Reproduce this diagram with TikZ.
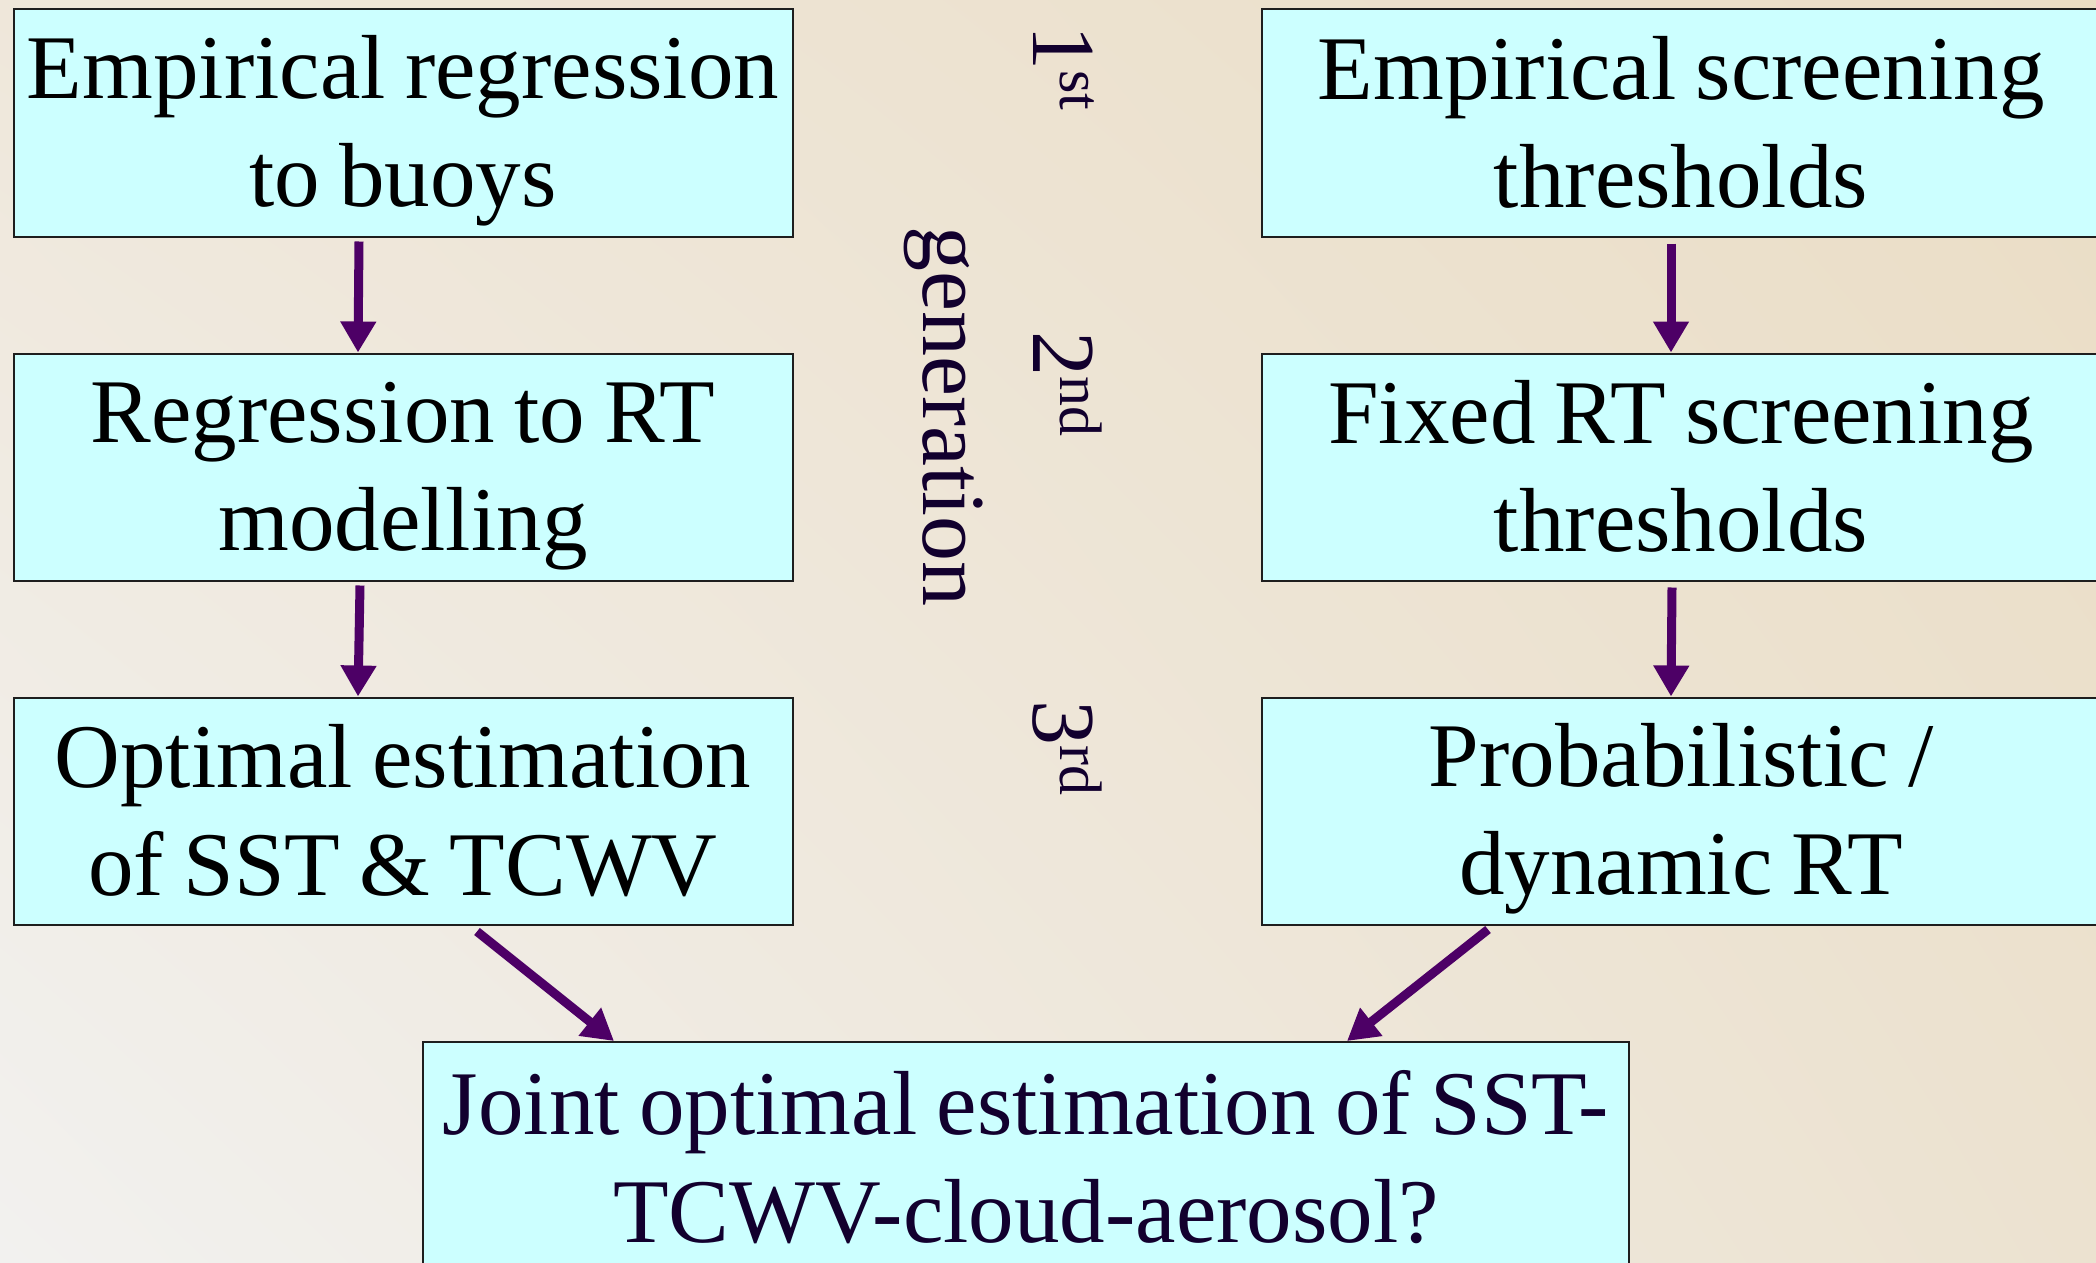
\documentclass[tikz,border=0pt]{standalone}
\usepackage{fontspec}
\setmainfont{Liberation Serif}[WordSpace=0.85]
\usetikzlibrary{arrows.meta,calc,shadings}
\definecolor{boxfill}{HTML}{CCFFFF}
\definecolor{arrowc}{RGB}{77,0,102}
\definecolor{navy}{HTML}{12002E}
\definecolor{bgUL}{HTML}{EFE7DA}
\definecolor{bgUR}{HTML}{EADDC5}
\definecolor{bgLL}{HTML}{F2F1EF}
\definecolor{bgLR}{HTML}{ECE2D0}
\definecolor{edgec}{HTML}{1E1E1E}
\newcommand\bxs{\rule[-18pt]{0pt}{96pt}}
\newcommand\bxb{\rule[-18pt]{0pt}{102pt}}
\newcommand\supx[1]{\raisebox{27pt}{\fontsize{60}{60}\selectfont #1}}
\begin{document}
\begin{tikzpicture}[x=1pt,y=-1pt,
  flowbox/.style={draw=edgec, fill=boxfill, line width=2pt, inner sep=0pt,
    minimum height=227pt, align=center,
    font=\fontsize{91}{108}\selectfont},
  leftbox/.style={flowbox, minimum width=779pt},
  rightbox/.style={flowbox, minimum width=838pt},
  genlabel/.style={rotate=-90, anchor=base west, inner sep=0pt, text=navy,
    font=\fontsize{90}{108}\selectfont},
  flowarrow/.style={draw=arrowc, line width=9pt,
    -{Triangle[length=31pt,width=34pt]}}
]
\useasboundingbox (0,0) rectangle (2096,1263);
\shade[upper left=bgUL, upper right=bgUR, lower left=bgLL, lower right=bgLR]
  (0,0) rectangle (2096,1263);

\node[leftbox] (L1) at (403,123) {\bxs Empirical regression\\ \bxs to buoys};
\node[leftbox] (L2) at (403,467) {\bxs Regression to RT\\ \bxs modelling};
\node[leftbox] (L3) at (403,811) {\bxs Optimal estimation\\ \bxs of SST \& TCWV};

\node[rightbox] (R1) at (1681,123) {\bxs Empirical screening\\ \bxs thresholds};
\node[rightbox] (R2) at (1681,467) {\bxs Fixed RT screening\\ \bxs thresholds};
\node[rightbox] (R3) at (1681,811) {\bxs Probabilistic /\\ \bxs dynamic RT};

\node[flowbox, minimum width=1206pt, text=navy] (B) at (1026,1155.5)
  {\bxb Joint optimal estimation of SST-\\ \bxb TCWV-cloud-aerosol?};

\node[genlabel] (G1) at (1033,25) {1\supx{st}};
\node[genlabel] (G2) at (1033,331) {2\supx{nd}};
\node[genlabel] (G3) at (1033,700) {3\supx{rd}};
\node[genlabel] (GN) at (923,226) {generation};

\draw[flowarrow] ($(L1.south)+(-44,4)$) -- ($(L2.north)+(-45,0)$);
\draw[flowarrow] ($(L2.south)+(-43,4)$) -- ($(L3.north)+(-45,0)$);
\draw[flowarrow] ($(R1.south)+(-10,6)$) -- ($(R2.north)+(-10,0)$);
\draw[flowarrow] ($(R2.south)+(-9,6)$) -- ($(R3.north)+(-10,0)$);
\draw[flowarrow] ($(L3.south)+(74,6)$) -- ($(B.north west)+(192,0)$);
\draw[flowarrow] ($(R3.south)+(-193,4)$) -- ($(B.north west)+(925,0)$);
\end{tikzpicture}
\end{document}
